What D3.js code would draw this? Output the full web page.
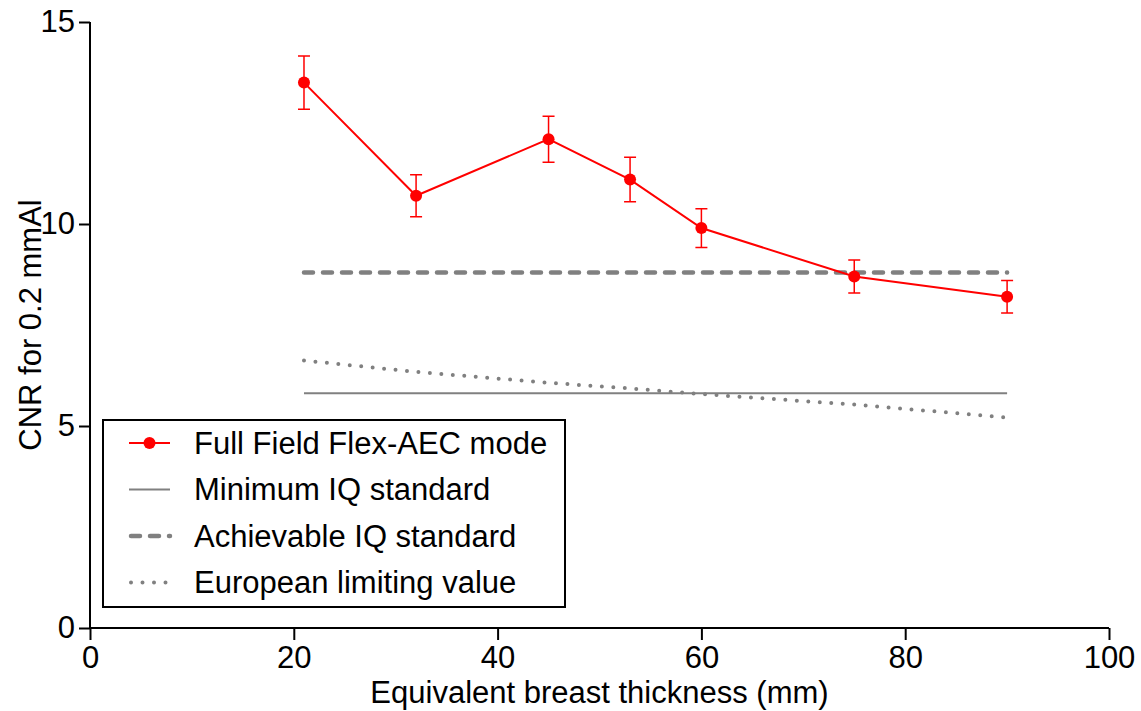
<!DOCTYPE html>
<html><head><meta charset="utf-8">
<script src="https://cdn.jsdelivr.net/npm/d3@7"></script>
<style>body{margin:0;background:#fff}svg{display:block}text{font-family:"Liberation Sans",Arial,sans-serif}</style>
</head><body><svg id="c" width="1141" height="711"></svg>
<script>
const thickness = [21, 32, 45, 53, 60, 75, 90];
const cnrFlex = [13.5, 10.7, 12.1, 11.1, 9.9, 8.7, 8.2];
const cnrErr = [0.66, 0.52, 0.57, 0.55, 0.48, 0.41, 0.40];
const minimumIQ = [5.81, 5.81, 5.81, 5.81, 5.81, 5.81, 5.81];
const achievableIQ = [8.8, 8.8, 8.8, 8.8, 8.8, 8.8, 8.8];
const europeanLimit = [6.62, 6.34, 6.07, 5.93, 5.79, 5.53, 5.21];
const xTicks = [0, 20, 40, 60, 80, 100];
const yTicks = [0, 5, 10, 15];
const legendLabels = ["Full Field Flex-AEC mode", "Minimum IQ standard", "Achievable IQ standard", "European limiting value"];

const svg = d3.select("#c");
const x = d3.scaleLinear().domain([0, 100]).range([90, 1109]);
const y = d3.scaleLinear().domain([0, 15]).range([628, 22]);
const RED = "#ff0000", GRAY = "#808080";

// axes
const xAxis = svg.append("g").attr("transform", `translate(0,${y(0)})`)
  .call(d3.axisBottom(x).tickValues(xTicks).tickSize(12).tickPadding(6).tickFormat(d3.format("d")));
const yAxis = svg.append("g").attr("transform", `translate(${x(0)},0)`)
  .call(d3.axisLeft(y).tickValues(yTicks).tickSize(11).tickPadding(4).tickFormat(d3.format("d")));
[xAxis, yAxis].forEach(g => {
  g.select(".domain").attr("stroke", "#000").attr("stroke-width", 2);
  g.selectAll(".tick line").attr("stroke", "#000").attr("stroke-width", 2);
  g.selectAll(".tick text").attr("fill", "#000").style("font-size", "31px").style("font-family", '"Liberation Sans",Arial,sans-serif');
});
xAxis.select(".domain").attr("d", `M${x(0)},0H${x(100)}`);
yAxis.select(".domain").attr("d", `M0,${y(0)}V${y(15)}`);

svg.append("text").attr("x", (x(0) + x(100)) / 2).attr("y", 703).attr("text-anchor", "middle")
  .style("font-size", "31px").text("Equivalent breast thickness (mm)");
svg.append("text").attr("transform", `translate(41,${(y(0) + y(15)) / 2}) rotate(-90)`).attr("text-anchor", "middle")
  .style("font-size", "31px").text("CNR for 0.2 mmAl");

const line = arr => d3.line().x((d, i) => x(thickness[i])).y(d => y(d))(arr);

// reference lines
svg.append("path").attr("d", line(minimumIQ)).attr("fill", "none").attr("stroke", GRAY).attr("stroke-width", 2);
svg.append("path").attr("d", line(achievableIQ)).attr("fill", "none").attr("stroke", GRAY).attr("stroke-width", 4.5)
  .attr("stroke-dasharray", "9 10").attr("stroke-linecap", "round");
svg.append("path").attr("d", line(europeanLimit)).attr("fill", "none").attr("stroke", GRAY).attr("stroke-width", 4)
  .attr("stroke-dasharray", "0 11.5").attr("stroke-linecap", "round");

// data line
svg.append("path").attr("d", line(cnrFlex)).attr("fill", "none").attr("stroke", RED).attr("stroke-width", 2);
const eb = svg.append("g").attr("stroke", RED).attr("stroke-width", 1.5).attr("fill", "none");
cnrFlex.forEach((v, i) => {
  const cx = x(thickness[i]), t = y(v + cnrErr[i]), b = y(v - cnrErr[i]);
  eb.append("path").attr("d", `M${cx},${t}V${b}M${cx - 6},${t}H${cx + 6}M${cx - 6},${b}H${cx + 6}`);
});
svg.append("g").selectAll("circle").data(cnrFlex).join("circle")
  .attr("cx", (d, i) => x(thickness[i])).attr("cy", d => y(d)).attr("r", 6).attr("fill", RED);

// legend
const lg = svg.append("g");
lg.append("rect").attr("x", 103).attr("y", 420).attr("width", 462).attr("height", 187)
  .attr("fill", "#fff").attr("stroke", "#000").attr("stroke-width", 2);
const rowY = [443, 489.5, 536, 582.5];
legendLabels.forEach((t, i) => {
  lg.append("text").attr("x", 194).attr("y", rowY[i]).attr("dy", "0.35em").style("font-size", "31px").text(t);
});
lg.append("line").attr("x1", 129).attr("x2", 170).attr("y1", rowY[0]).attr("y2", rowY[0]).attr("stroke", RED).attr("stroke-width", 2);
lg.append("circle").attr("cx", 149.5).attr("cy", rowY[0]).attr("r", 6).attr("fill", RED);
lg.append("line").attr("x1", 129).attr("x2", 170).attr("y1", rowY[1]).attr("y2", rowY[1]).attr("stroke", GRAY).attr("stroke-width", 2);
lg.append("line").attr("x1", 131).attr("x2", 170).attr("y1", rowY[2]).attr("y2", rowY[2]).attr("stroke", GRAY).attr("stroke-width", 4.5)
  .attr("stroke-dasharray", "9 10").attr("stroke-linecap", "round");
lg.append("line").attr("x1", 131).attr("x2", 170).attr("y1", rowY[3]).attr("y2", rowY[3]).attr("stroke", GRAY).attr("stroke-width", 4)
  .attr("stroke-dasharray", "0 11.5").attr("stroke-linecap", "round");
</script></body></html>
